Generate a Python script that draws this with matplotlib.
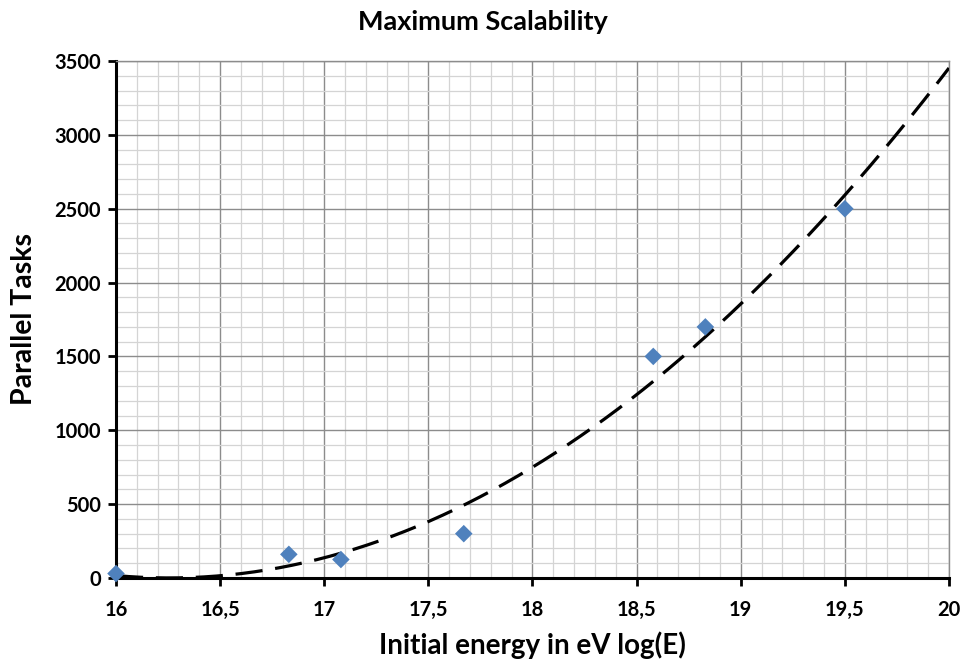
import matplotlib
matplotlib.use('Agg')
import matplotlib.pyplot as plt
from matplotlib.ticker import MultipleLocator, FuncFormatter
import numpy as np

# data
energy = [16.0, 16.83, 17.08, 17.67, 18.58, 18.83, 19.5]
tasks = [30, 160, 125, 300, 1500, 1700, 2500]

plt.rcParams['font.family'] = ['Lato', 'DejaVu Sans']
plt.rcParams['font.weight'] = 'bold'

fig = plt.figure(figsize=(9.65, 6.61), dpi=100)
ax = fig.add_axes([0.1202, 0.1256, 0.8632, 0.7821])

# polynomial trendline (order 2) like the spreadsheet one
coef = np.polyfit(energy, tasks, 2)
xs = np.linspace(16, 20, 200)
ax.plot(xs, np.polyval(coef, xs), color='black', lw=2.3,
        linestyle=(0, (8.5, 4)), zorder=3)

ax.scatter(energy, tasks, marker='D', s=80, color='#4F81BD', zorder=4,
           clip_on=False, edgecolors='none')

ax.set_xlim(16, 20)
ax.set_ylim(0, 3500)
ax.xaxis.set_major_locator(MultipleLocator(0.5))
ax.xaxis.set_minor_locator(MultipleLocator(0.1))
ax.yaxis.set_major_locator(MultipleLocator(500))
ax.yaxis.set_minor_locator(MultipleLocator(100))
ax.xaxis.set_major_formatter(FuncFormatter(lambda v, p: ('%g' % v).replace('.', ',')))

ax.grid(which='major', color='#8c8c8c', lw=1.0)
ax.grid(which='minor', color='#d4d4d4', lw=0.9)
ax.set_axisbelow(True)

for s in ['left', 'bottom']:
    ax.spines[s].set_linewidth(2.2)
    ax.spines[s].set_color('black')
for s in ['top', 'right']:
    ax.spines[s].set_linewidth(1.0)
    ax.spines[s].set_color('#8c8c8c')

ax.tick_params(which='major', direction='out', length=6, width=2, labelsize=14.5, pad=5)
ax.tick_params(which='minor', length=0)
ax.tick_params(axis='x', which='major', pad=10)

fig.text(0.5, 0.966, 'Maximum Scalability', fontsize=19.5, fontweight='bold',
         ha='center', va='center')
ax.set_xlabel('Initial energy in eV log(E)', fontsize=20, fontweight='bold', labelpad=8)
ax.set_ylabel('Parallel Tasks', fontsize=20.5, fontweight='bold', labelpad=12)

fig.savefig('out.png', dpi=100)
